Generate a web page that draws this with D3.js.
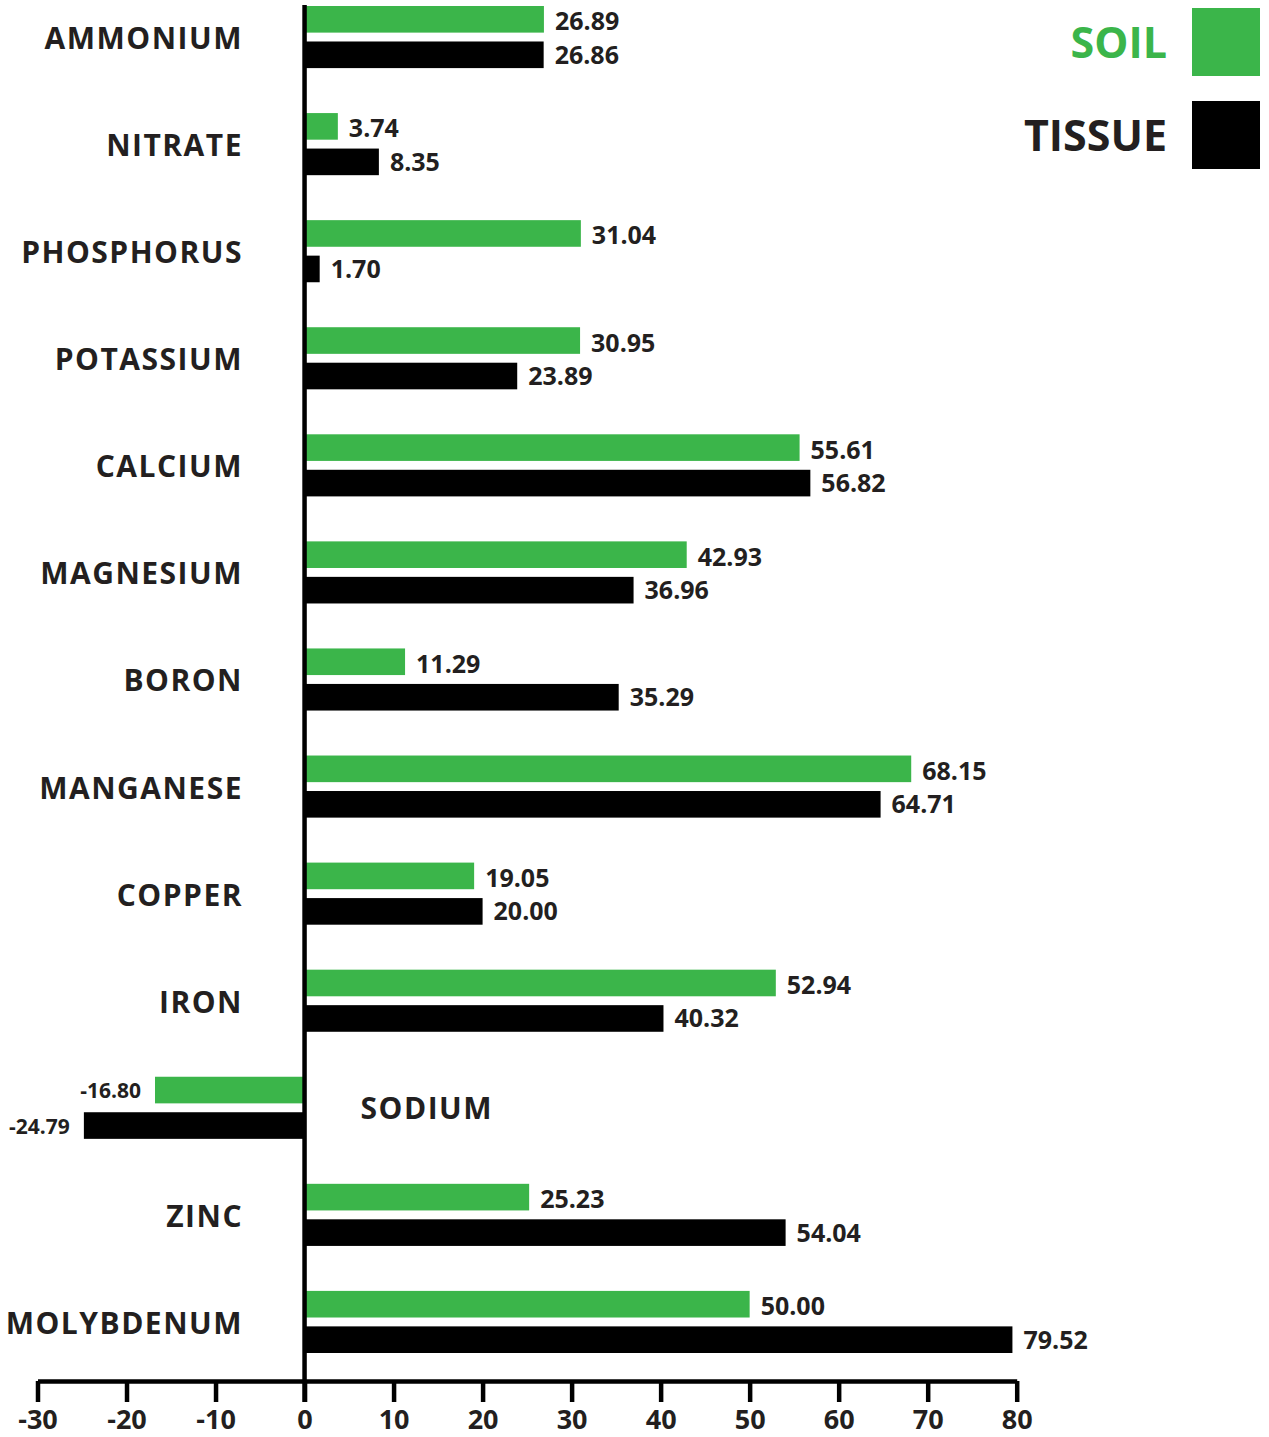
<!DOCTYPE html>
<html>
<head>
<meta charset="utf-8">
<script src="https://cdn.jsdelivr.net/npm/d3@7/dist/d3.min.js"></script>
<style>
  body { margin: 0; background: #fff; }
  text { font-family: "Open Sans", "Noto Sans", sans-serif; font-weight: 700; fill: #231f20; }
</style>
</head>
<body>
<script>
// data
let categories = ["AMMONIUM", "NITRATE", "PHOSPHORUS", "POTASSIUM", "CALCIUM", "MAGNESIUM",
  "BORON", "MANGANESE", "COPPER", "IRON", "SODIUM", "ZINC", "MOLYBDENUM"];
let soil = [26.89, 3.74, 31.04, 30.95, 55.61, 42.93, 11.29, 68.15, 19.05, 52.94, -16.80, 25.23, 50.00];
let tissue = [26.86, 8.35, 1.70, 23.89, 56.82, 36.96, 35.29, 64.71, 20.00, 40.32, -24.79, 54.04, 79.52];
let series = ["SOIL", "TISSUE"];
let ticks = [-30, -20, -10, 0, 10, 20, 30, 40, 50, 60, 70, 80];

let width = 1269, height = 1437;
let colors = d3.scaleOrdinal().domain(series).range(["#3bb54a", "#000000"]);

let x = d3.scaleLinear().domain([-30, 80]).range([37.5, 1016.7]);
let y = d3.scaleBand().domain(categories).range([6, 1353]).paddingInner(0.42).paddingOuter(0);
let ySub = d3.scaleBand().domain(series).range([0, y.bandwidth()]).paddingInner(0.25);

let rows = categories.map(function(c, i) {
  return { name: c, values: [{ key: "SOIL", v: soil[i] }, { key: "TISSUE", v: tissue[i] }] };
});

let svg = d3.select("body").append("svg")
  .attr("width", width)
  .attr("height", height);

let group = svg.selectAll("g.row")
  .data(rows)
  .enter()
  .append("g")
  .attr("class", "row")
  .attr("transform", function(d) { return "translate(0," + y(d.name) + ")"; });

// bars
group.selectAll("rect")
  .data(function(d) { return d.values; })
  .enter()
  .append("rect")
  .attr("x", function(d) { return Math.min(x(0), x(d.v)); })
  .attr("y", function(d) { return ySub(d.key); })
  .attr("width", function(d) { return Math.abs(x(d.v) - x(0)); })
  .attr("height", ySub.bandwidth())
  .attr("fill", function(d) { return colors(d.key); });

// value labels
group.selectAll("text.val")
  .data(function(d) { return d.values; })
  .enter()
  .append("text")
  .attr("class", "val")
  .attr("x", function(d) { return d.v < 0 ? x(d.v) - 14 : x(d.v) + 11; })
  .attr("y", function(d) {
    let off = d.v < 0 ? 8 : (d.key == "SOIL" ? 11 : 9);
    return ySub(d.key) + ySub.bandwidth() / 2 + off;
  })
  .attr("text-anchor", function(d) { return d.v < 0 ? "end" : "start"; })
  .style("font-size", function(d) { return d.v < 0 ? "21px" : "25px"; })
  .text(function(d) { return d.v.toFixed(2); });

// category labels (sodium sits right of the zero line)
group.append("text")
  .attr("class", "cat")
  .attr("x", function(d) { return d.values[0].v < 0 ? x(0) + 56 : 243; })
  .attr("y", function(d) { return d.values[0].v < 0 ? y.bandwidth() / 2 + 11 : y.bandwidth() / 2 + 12; })
  .attr("text-anchor", function(d) { return d.values[0].v < 0 ? "start" : "end"; })
  .style("font-size", "30px")
  .style("letter-spacing", "1.5px")
  .text(function(d) { return d.name; });

// x axis
let axis = svg.append("g")
  .attr("transform", "translate(0,1381)")
  .call(d3.axisBottom(x).tickValues(ticks).tickSize(21).tickSizeOuter(0).tickPadding(8)
    .tickFormat(function(d) { return String(d); }));
axis.select(".domain").attr("stroke", "#000").attr("stroke-width", 4.5);
axis.selectAll(".tick line").attr("stroke", "#000").attr("stroke-width", 4.5);
axis.selectAll(".tick text")
  .style("font-size", "27px")
  .attr("fill", "#231f20");

// zero line
svg.append("line")
  .attr("x1", x(0)).attr("x2", x(0))
  .attr("y1", 5).attr("y2", 1402)
  .attr("stroke", "#000")
  .attr("stroke-width", 4.5);

// legend
let legend = svg.selectAll("g.legend")
  .data(series)
  .enter()
  .append("g")
  .attr("class", "legend")
  .attr("transform", function(d, i) { return "translate(0," + (8 + i * 93) + ")"; });

legend.append("rect")
  .attr("x", 1192)
  .attr("width", 68)
  .attr("height", 68)
  .attr("fill", function(d) { return colors(d); });

legend.append("text")
  .attr("x", 1167)
  .attr("y", 50)
  .attr("text-anchor", "end")
  .style("font-size", "43px")
  .style("fill", function(d) { return d == "SOIL" ? "#3bb54a" : "#231f20"; })
  .text(function(d) { return d; });
</script>
</body>
</html>
